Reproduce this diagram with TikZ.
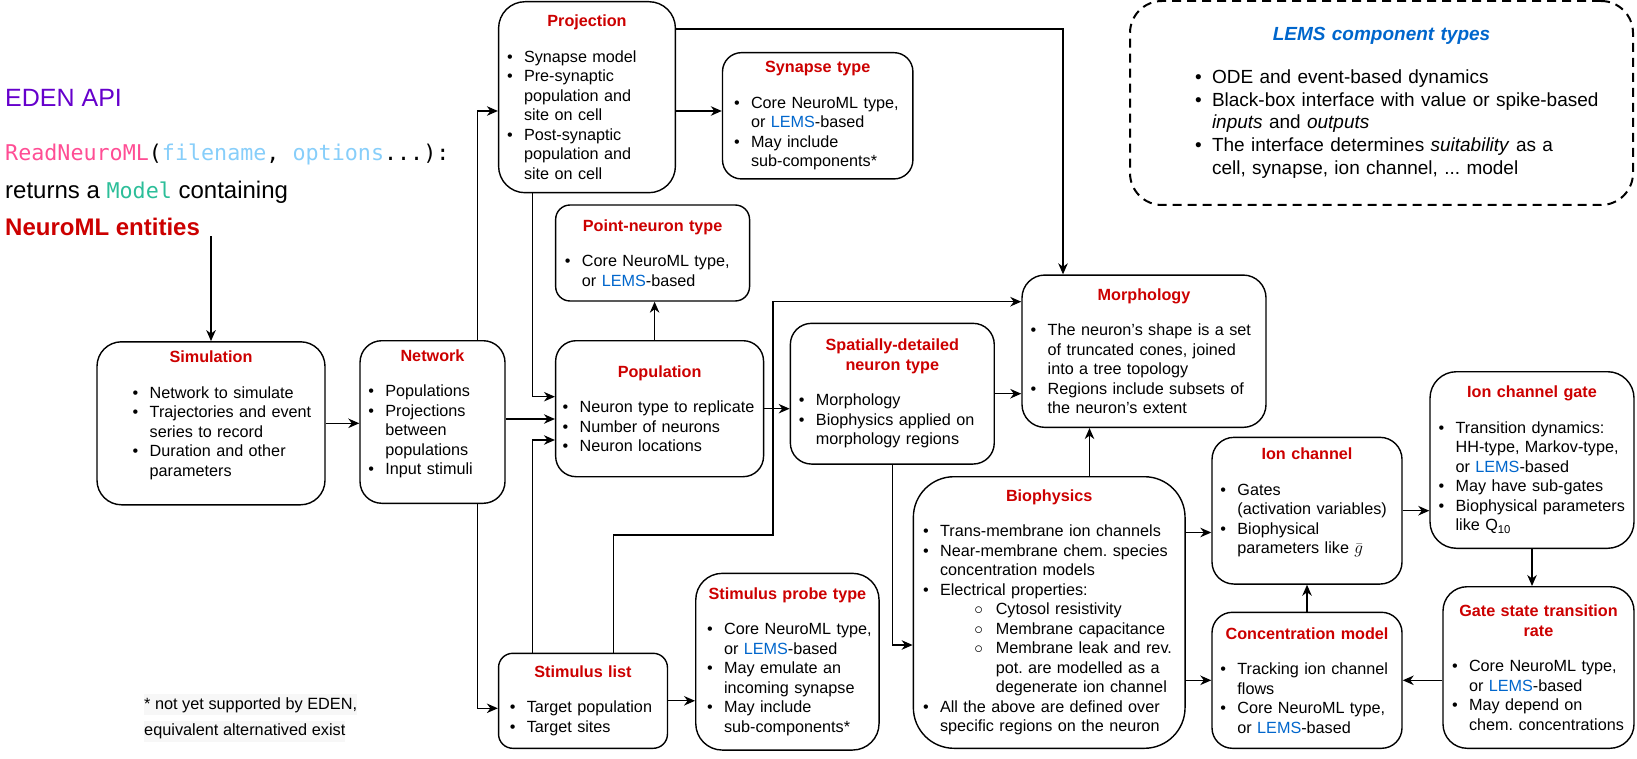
\documentclass[tikz,border=0pt]{standalone}
\usepackage{fontspec}
\setmainfont{Liberation Sans}
\setmonofont{DejaVu Sans Mono}
\usepackage{xcolor}
\usepackage{tikz}
\usetikzlibrary{arrows.meta}
\definecolor{nmlred}{RGB}{204,0,0}
\definecolor{lemsblue}{RGB}{0,102,204}
\definecolor{edenpurple}{RGB}{102,0,204}
\definecolor{callpink}{RGB}{255,77,148}
\definecolor{argblue}{RGB}{135,206,250}
\definecolor{modelteal}{RGB}{44,190,153}
\frenchspacing
\newcommand{\bodyfont}{\fontsize{16.2}{19.5}\selectfont}
\newcommand{\ttl}[1]{\noindent\makebox[\hsize][c]{\color{nmlred}\bfseries #1}\par}
\newcommand{\tgap}{\vspace{16pt}}
\newcommand{\tail}{\par\kern16pt}
\newcommand{\itm}[1]{\noindent\makebox[17pt][l]{\textbullet}\mbox{#1}\par}
\newcommand{\cnt}[1]{\noindent\hspace*{17pt}\mbox{#1}\par}
\newcommand{\sitm}[1]{\noindent\hspace*{51.3pt}\makebox[21.4pt][l]{$\circ$}\mbox{#1}\par}
\newcommand{\scnt}[1]{\noindent\hspace*{72.7pt}\mbox{#1}\par}
\newcommand{\lems}{\textcolor{lemsblue}{LEMS}}
\tikzstyle{arrow} = [line width=1.3pt,->,>={Stealth[length=11pt,width=9.5pt,inset=3.5pt]}]
\tikzstyle{entity} = [draw, line width=1.4pt, inner ysep=2pt, font=\bodyfont]

\begin{document}
\begin{tikzpicture}[x=1pt,y=-1pt]
	\useasboundingbox (0,0) rectangle (1637,759);
	
	% API text:
	% Set at the top left, one node per line, placed on their baselines
	\node[anchor=base west, inner sep=0pt, text=edenpurple, font=\fontsize{25}{30}\selectfont] (api) at (5,107) {EDEN API};
	\node[anchor=base west, inner sep=0pt, font=\fontsize{21.7}{26}\selectfont\ttfamily] (call) at (5,161) {\textcolor{callpink}{ReadNeuroML}(\textcolor{argblue}{filename}, \textcolor{argblue}{options}...):};
	\node[anchor=base west, inner sep=0pt, font=\fontsize{24}{29}\selectfont] (ret) at (5,199) {returns a {\ttfamily\fontsize{21.7}{26}\selectfont\textcolor{modelteal}{Model}} containing};
	\node[anchor=base west, inner sep=0pt, text=nmlred, font=\fontsize{24}{29}\selectfont\bfseries] (entities) at (5,236) {NeuroML entities};
	
	% Footnote:
	\node[anchor=base west, inner xsep=0pt, inner ysep=3pt, fill=black!3, font=\fontsize{16.3}{20}\selectfont] (fna) at (144,709) {* not yet supported by EDEN,};
	\node[anchor=base west, inner xsep=0pt, inner ysep=3pt, fill=black!3, font=\fontsize{16.3}{20}\selectfont] (fnb) at (144,735.5) {equivalent alternatived exist};
	
	% Entities:
	% Every box is one node: a centred title, then the list of its contents
	\node[entity, rounded corners=24.5pt, text width=156.6pt, inner xsep=35.7pt, minimum height=163pt] (sim) at (211,423.3)
	{\ttl{Simulation}\tgap
		\itm{Network to simulate}
		\itm{Trajectories and event}
		\cnt{series to record}
		\itm{Duration and other}
		\cnt{parameters}\tail};
	
	\node[entity, rounded corners=21.8pt, text width=128.2pt, inner xsep=8.4pt, minimum height=162.6pt] (net) at (432.5,422)
	{\ttl{Network}\tgap
		\itm{Populations}
		\itm{Projections}
		\cnt{between}
		\cnt{populations}
		\itm{Input stimuli}\tail};
	
	\node[entity, rounded corners=26.5pt, text width=160pt, inner xsep=8.4pt, minimum height=191pt] (proj) at (587,97.2)
	{\ttl{Projection}\tgap
		\itm{Synapse model}
		\itm{Pre-synaptic}
		\cnt{population and}
		\cnt{site on cell}
		\itm{Post-synaptic}
		\cnt{population and}
		\cnt{site on cell}};
	
	\node[entity, rounded corners=19pt, text width=167.4pt, inner xsep=11.5pt, minimum height=126.3pt] (syn) at (817.7,115.8)
	{\ttl{Synapse type}\tgap
		\itm{Core NeuroML type,}
		\cnt{or \lems-based}
		\itm{May include}
		\cnt{sub-components*}};
	
	\node[entity, rounded corners=14.4pt, text width=175.3pt, inner xsep=9.3pt, minimum height=96pt] (pnt) at (652.6,253)
	{\ttl{Point-neuron type}\tgap
		\itm{Core NeuroML type,}
		\cnt{or \lems-based}};
	
	\node[entity, rounded corners=20.4pt, text width=193.9pt, inner xsep=7pt, minimum height=136pt] (pop) at (659.6,408.7)
	{\ttl{Population}\tgap
		\itm{Neuron type to replicate}
		\itm{Number of neurons}
		\itm{Neuron locations}};
	
	\node[entity, rounded corners=21.1pt, text width=186.7pt, inner xsep=8.6pt, minimum height=140.7pt] (spat) at (892.3,393.7)
	{\ttl{Spatially-detailed}\ttl{neuron type}\tgap
		\itm{Morphology}
		\itm{Biophysics applied on}
		\cnt{morphology regions}};
	
	\node[entity, rounded corners=22.8pt, text width=226.6pt, inner xsep=8.7pt, minimum height=152.3pt] (morph) at (1144,351.2)
	{\ttl{Morphology}\tgap
		\itm{The neuron's shape is a set}
		\cnt{of truncated cones, joined}
		\cnt{into a tree topology}
		\itm{Regions include subsets of}
		\cnt{the neuron's extent}};
	
	\node[entity, line width=2pt, dash pattern=on 9pt off 6pt, rounded corners=32pt, text width=373pt, inner xsep=65pt, minimum height=204pt, font=\fontsize{19}{22.8}\selectfont] (lems) at (1381.5,103)
	{\noindent\makebox[\hsize][c]{\color{lemsblue}\bfseries\itshape LEMS component types}\par\vspace{19.5pt}
		\itm{ODE and event-based dynamics}
		\itm{Black-box interface with value or spike-based}
		\cnt{\emph{inputs} and \emph{outputs}}
		\itm{The interface determines \emph{suitability} as a}
		\cnt{cell, synapse, ion channel, ... model}};
	
	\node[entity, rounded corners=26.5pt, text width=186.8pt, inner xsep=8.6pt, minimum height=176.6pt] (gate) at (1532,460)
	{\ttl{Ion channel gate}\tgap
		\itm{Transition dynamics:}
		\cnt{HH-type, Markov-type,}
		\cnt{or \lems-based}
		\itm{May have sub-gates}
		\itm{Biophysical parameters}
		\cnt{like Q\textsubscript{10}}};
	
	\node[entity, rounded corners=24.2pt, text width=173pt, inner xsep=9pt, minimum height=161.6pt] (rate) at (1538.5,667.5)
	{\ttl{Gate state transition}\ttl{rate}\tgap
		\itm{Core NeuroML type,}
		\cnt{or \lems-based}
		\itm{May depend on}
		\cnt{chem. concentrations}};
	
	\node[entity, rounded corners=22pt, text width=173.2pt, inner xsep=8.4pt, minimum height=146.7pt] (ionch) at (1307,510.7)
	{\ttl{Ion channel}\tgap
		\itm{Gates}
		\cnt{(activation variables)}
		\itm{Biophysical}
		\cnt{parameters like \smash{$\bar{g}$}}\tail};
	
	\node[entity, rounded corners=20.4pt, text width=173.2pt, inner xsep=8.4pt, minimum height=136pt] (conc) at (1307,680.3)
	{\ttl{Concentration model}\tgap
		\itm{Tracking ion channel}
		\cnt{flows}
		\itm{Core NeuroML type,}
		\cnt{or \lems-based}};
	
	\node[entity, rounded corners=40.7pt, text width=252.3pt, inner xsep=9.7pt, minimum height=271.6pt] (bio) at (1049.2,612.5)
	{\ttl{Biophysics}\tgap
		\itm{Trans-membrane ion channels}
		\itm{Near-membrane chem. species}
		\cnt{concentration models}
		\itm{Electrical properties:}
		\sitm{Cytosol resistivity}
		\sitm{Membrane capacitance}
		\sitm{Membrane leak and rev.}
		\scnt{pot. are modelled as a}
		\scnt{degenerate ion channel}
		\itm{All the above are defined over}
		\cnt{specific regions on the neuron}};
	
	\node[entity, rounded corners=14.2pt, text width=146.3pt, inner xsep=11.3pt, minimum height=95pt] (stim) at (583,700.8)
	{\ttl{Stimulus list}\tgap
		\itm{Target population}
		\itm{Target sites}};
	
	\node[entity, rounded corners=26.5pt, text width=160.7pt, inner xsep=11.3pt, minimum height=176.7pt] (probe) at (787.4,661.7)
	{\ttl{Stimulus probe type}\tgap
		\itm{Core NeuroML type,}
		\cnt{or \lems-based}
		\itm{May emulate an}
		\cnt{incoming synapse}
		\itm{May include}
		\cnt{sub-components*}};
	
	% Connectors:
	% Elbows are drawn with |- and -|, the ends shifted off the anchors where needed
	\coordinate (sbend) at (772.9,535);
	
	\draw[arrow] (entities.south -| sim.north) -- (sim.north);
	\draw[arrow] (sim.east) -- (sim.east -| net.west);
	\draw[arrow] ([xshift=45.3pt]net.north) |- ([yshift=-13.8pt]proj.west);
	\draw[arrow] ([xshift=45.3pt]net.south) |- ([yshift=-7.5pt]stim.west);
	\draw[arrow] ([yshift=3pt]net.east) -- ([yshift=3pt]net.east -| pop.west);
	\draw[arrow] ([yshift=-13.8pt]proj.east) -- ([yshift=-13.8pt]proj.east -| syn.west);
	\draw[arrow] ([yshift=68.2pt]proj.east) -| ([xshift=-81pt]morph.north);
	\draw[arrow] ([xshift=-54.5pt]proj.south) |- ([yshift=12pt]pop.west);
	\draw[arrow] ([xshift=-5pt]pop.north) -- ([xshift=-5pt]pop.north |- pnt.south);
	\draw[arrow] (pop.east) -- (pop.east -| spat.west);
	\draw[arrow] (spat.east) -- (spat.east -| morph.west);
	\draw[arrow] (spat.south) |- ([yshift=-32.5pt]bio.west);
	\draw[arrow] ([xshift=-50.5pt]stim.north) |- ([yshift=-31.3pt]pop.west);
	\draw[arrow] ([xshift=30.6pt]stim.north) |- (sbend) |- ([yshift=49.5pt]morph.west);
	\draw[arrow] (stim.east) -- (stim.east -| probe.west);
	\draw[arrow] ([xshift=40.3pt]bio.north) -- ([xshift=40.3pt]bio.north |- morph.south);
	\draw[arrow] ([yshift=80pt]bio.east) -- ([yshift=80pt]bio.east -| ionch.west);
	\draw[arrow] (conc.west -| bio.east) -- (conc.west);
	\draw[arrow] (ionch.east) -- (ionch.east -| gate.west);
	\draw[arrow] (gate.south) -- (gate.south |- rate.north);
	\draw[arrow] (rate.west |- conc.east) -- (conc.east);
	\draw[arrow] (conc.north) -- (conc.north |- ionch.south);
	
\end{tikzpicture}
\end{document}
